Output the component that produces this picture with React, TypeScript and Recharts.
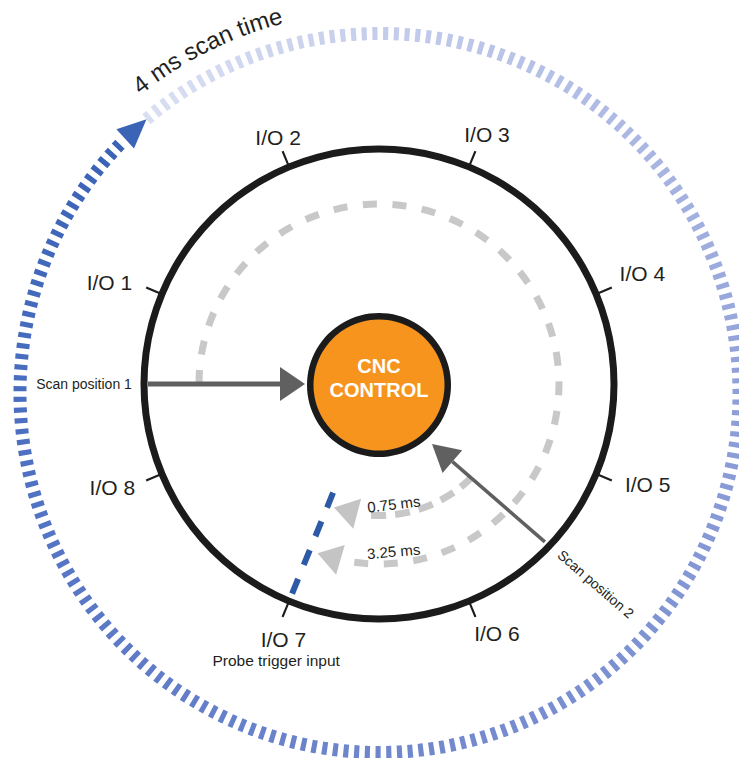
import React from "react";
import { Cell, Pie, PieChart, Scatter, ScatterChart, XAxis, YAxis } from "recharts";

const W = 739;
const H = 758;
// centre of the I/O ring in px; the overlay axes put it at (0,0) with y pointing up
const CX = 379;
const CY = 384;
const FONT = "'Liberation Sans', Arial, Helvetica, sans-serif";
const INK = "#231f20";

// ---------- values ----------
const ioNames = ["I/O 1", "I/O 2", "I/O 3", "I/O 4", "I/O 5", "I/O 6", "I/O 7", "I/O 8"];
const ioAngles = [157.5, 112.5, 67.5, 22.5, -22.5, -67.5, -112.5, -157.5];
const scanTimeMs = 4;
const probeAngle = -112.5; // I/O 7
const probeLabel = "Probe trigger input";
const delayLabels = ["3.25 ms", "0.75 ms"];
const delayMs = [3.25, 0.75];
const scanLabels = ["Scan position 1", "Scan position 2"];
const controlLines = ["CNC", "CONTROL"];

// ---------- layout ----------
const OUTER_C = { x: 0.5, y: -9 }; // scan-time ring is a touch lower than the I/O ring
const OUTER_R = 359.5;
const OUTER_TIP = 130.4;
const ioLabelPos = [
  [288, 159.4], [266, 112.3], [272, 66.6], [285.5, 22.7],
  [287, -20.6], [276, -64.7], [273, -110.5], [286, -158.8],
];
const delayRadius = [180, 131.5];
const delayTextPos = [[168, -85], [121, -83]];
const ringStops = ["#d9dff2", "#c2cbea", "#a9b6e1", "#8e9fd8", "#7d92d2", "#6f86cc", "#5e7ac7", "#4a6ec0", "#3a62b5"];

const deg = (rad: number) => (rad * 180) / Math.PI;
const rad = (d: number) => (d * Math.PI) / 180;
const polar = (angle: number, r: number, c = { x: 0, y: 0 }) => ({
  x: c.x + r * Math.cos(rad(angle)),
  y: c.y + r * Math.sin(rad(angle)),
});

// dash/gap cells for a Pie, values in degrees so they add up to the sweep
function dashes(sweep: number, dashDeg: number, count: number) {
  const gap = (sweep - dashDeg * count) / (count - 1);
  const out: { v: number; on: boolean; i: number }[] = [];
  for (let i = 0; i < count; i++) {
    out.push({ v: dashDeg, on: true, i });
    if (i < count - 1) out.push({ v: gap, on: false, i });
  }
  return out;
}

function hex(c: string) {
  return [1, 3, 5].map((k) => parseInt(c.slice(k, k + 2), 16));
}
function ringColor(t: number) {
  const s = t * (ringStops.length - 1);
  const k = Math.min(Math.floor(s), ringStops.length - 2);
  const f = s - k;
  const a = hex(ringStops[k]);
  const b = hex(ringStops[k + 1]);
  return `rgb(${a.map((v, j) => Math.round(v + (b[j] - v) * f)).join(",")})`;
}

function head(base: any, tip: any, half: number, fill: string) {
  const dx = tip.x - base.x;
  const dy = tip.y - base.y;
  const len = Math.hypot(dx, dy);
  return { x: tip.x, y: tip.y, ux: dx / len, uy: dy / len, len, half, fill };
}
function arrow(start: any, tip: any, len: number, half: number, fill: string) {
  const dx = tip.x - start.x;
  const dy = tip.y - start.y;
  const d = Math.hypot(dx, dy);
  const base = { x: tip.x - (dx / d) * len, y: tip.y - (dy / d) * len };
  return { line: [start, base], head: head(base, tip, half, fill) };
}

// ---------- tables for the library ----------
const OUTER_COUNT = 208;
const outerRing = dashes(354.2, 0.82, OUTER_COUNT).map((d) => ({
  ...d,
  color: ringColor(d.i / (OUTER_COUNT - 1)),
}));

const ioTicks = ioAngles.flatMap(() => [{ v: 0.5, on: true }, { v: 44.5, on: false }]);

const tipGap = 2.5;
const delayArcs = delayMs.map((ms, i) => {
  const r = delayRadius[i];
  const from = probeAngle + (ms / scanTimeMs) * 360;
  const tip = probeAngle + tipGap;
  const end = tip + deg((24 + 14) / r);
  const dashDeg = deg((i === 0 ? 14 : 15) / r);
  const count = Math.max(2, Math.round((from - end) / deg(30 / r)) + 1);
  return {
    r,
    from,
    end,
    cells: dashes(from - end, dashDeg, count),
    head: head(polar(tip + deg(24 / r), r), polar(tip, r), 15.5, "#c4c4c4"),
  };
});

const scan1 = arrow(polar(180, 231), polar(180, 74), 25, 17, "#606060");
const scan2 = arrow(polar(-43.6, 229), polar(-48.5, 80), 27, 15, "#606060");
const probeLine = [polar(probeAngle - 0.4, 118), polar(probeAngle, 233)];

const outerHead = head(
  polar(OUTER_TIP + deg(29 / OUTER_R), OUTER_R, OUTER_C),
  polar(OUTER_TIP, OUTER_R, OUTER_C),
  13,
  "#3b64b6"
);
const heads = [scan1.head, scan2.head, ...delayArcs.map((a) => a.head), outerHead];

const labels: any[] = [
  ...ioNames.map((t, i) => ({ ...polar(ioLabelPos[i][1], ioLabelPos[i][0]), text: t, size: 21 })),
  { ...polar(180, 295), text: scanLabels[0], size: 14 },
  { ...polar(-42.7, 295), text: scanLabels[1], size: 14, rotate: 41 },
  { ...polar(-110.4, 295), text: probeLabel, size: 15.5 },
  ...delayLabels.map((t, i) => ({
    ...polar(delayTextPos[i][1], delayTextPos[i][0]),
    text: t,
    size: 15,
    rotate: -(90 + delayTextPos[i][1]),
  })),
  { ...polar(90, 18), text: controlLines[0], size: 20, bold: true, fill: "#fff" },
  { ...polar(-90, 5.5), text: controlLines[1], size: 20, bold: true, fill: "#fff" },
  { ...OUTER_C, text: `${scanTimeMs} ms scan time`, size: 24, arc: 382, mid: 116.6 },
];

function Blank() {
  return <g />;
}

function HeadShape(props: any) {
  const { cx, cy, payload } = props;
  const { ux, uy, len, half, fill } = payload;
  const sx = ux;
  const sy = -uy;
  const bx = cx - sx * len;
  const by = cy - sy * len;
  const nx = -sy;
  const ny = sx;
  const pts = `${cx},${cy} ${bx + nx * half},${by + ny * half} ${bx - nx * half},${by - ny * half}`;
  return <polygon points={pts} fill={fill} />;
}

function LabelShape(props: any) {
  const { cx, cy, payload } = props;
  if (payload.arc) {
    const r = payload.arc;
    const a0 = rad(payload.mid + 35);
    const a1 = rad(payload.mid - 35);
    const d = `M ${cx + r * Math.cos(a0)} ${cy - r * Math.sin(a0)} A ${r} ${r} 0 0 1 ${cx + r * Math.cos(a1)} ${cy - r * Math.sin(a1)}`;
    return (
      <g>
        <defs>
          <path id="scan-time-arc" d={d} fill="none" />
        </defs>
        <text fontFamily={FONT} fontSize={payload.size} fill={INK} textAnchor="middle">
          <textPath href="#scan-time-arc" startOffset="50%">
            {payload.text}
          </textPath>
        </text>
      </g>
    );
  }
  return (
    <text
      x={cx}
      y={cy}
      textAnchor="middle"
      dominantBaseline="central"
      fontFamily={FONT}
      fontSize={payload.size}
      fontWeight={payload.bold ? 700 : 400}
      fill={payload.fill ?? INK}
      transform={payload.rotate ? `rotate(${payload.rotate} ${cx} ${cy})` : undefined}
    >
      {payload.text}
    </text>
  );
}

const layer: React.CSSProperties = { position: "absolute", left: 0, top: 0 };
const noMargin = { top: 0, right: 0, bottom: 0, left: 0 };

export default function App() {
  return (
    <div style={{ position: "absolute", left: 0, top: 0, width: W, height: H, background: "#fff", overflow: "hidden" }}>
      <div style={layer}>
        <PieChart width={W} height={H} margin={noMargin}>
          {/* 4 ms scan-time ring */}
          <Pie
            data={outerRing}
            dataKey="v"
            cx={CX + OUTER_C.x}
            cy={CY - OUTER_C.y}
            innerRadius={353}
            outerRadius={366}
            startAngle={OUTER_TIP}
            endAngle={OUTER_TIP - 354.2}
            stroke="none"
            isAnimationActive={false}
          >
            {outerRing.map((d, i) => (
              <Cell key={i} fill={d.on ? d.color : "transparent"} stroke="none" />
            ))}
          </Pie>
          {/* I/O ring */}
          <Pie
            data={[{ v: 1 }]}
            dataKey="v"
            cx={CX}
            cy={CY}
            innerRadius={231.5}
            outerRadius={238.5}
            startAngle={0}
            endAngle={360}
            fill="#1b1b1b"
            stroke="none"
            isAnimationActive={false}
          />
          <Pie
            data={ioTicks}
            dataKey="v"
            cx={CX}
            cy={CY}
            innerRadius={236}
            outerRadius={252}
            startAngle={ioAngles[0] + 0.25}
            endAngle={ioAngles[0] + 0.25 - 360}
            stroke="none"
            isAnimationActive={false}
          >
            {ioTicks.map((d, i) => (
              <Cell key={i} fill={d.on ? "#1b1b1b" : "transparent"} stroke="none" />
            ))}
          </Pie>
          {/* delay arcs from each scan position to the probe input */}
          {delayArcs.map((a, k) => (
            <Pie
              key={k}
              data={a.cells}
              dataKey="v"
              cx={CX}
              cy={CY}
              innerRadius={a.r - 3.5}
              outerRadius={a.r + 3.5}
              startAngle={a.from}
              endAngle={a.end}
              stroke="none"
              isAnimationActive={false}
            >
              {a.cells.map((d, i) => (
                <Cell key={i} fill={d.on ? "#c8c8c8" : "transparent"} stroke="none" />
              ))}
            </Pie>
          ))}
          {/* CNC control */}
          <Pie
            data={[{ v: 1 }]}
            dataKey="v"
            cx={CX}
            cy={CY + 1}
            innerRadius={0}
            outerRadius={66}
            fill="#f7941d"
            stroke="none"
            isAnimationActive={false}
          />
          <Pie
            data={[{ v: 1 }]}
            dataKey="v"
            cx={CX}
            cy={CY + 1}
            innerRadius={65.5}
            outerRadius={72}
            fill="#1b1b1b"
            stroke="none"
            isAnimationActive={false}
          />
        </PieChart>
      </div>
      <div style={layer}>
        <ScatterChart width={W} height={H} margin={noMargin}>
          <XAxis type="number" dataKey="x" domain={[-CX, W - CX]} hide allowDataOverflow />
          <YAxis type="number" dataKey="y" domain={[CY - H, CY]} hide allowDataOverflow />
          <Scatter
            data={scan1.line}
            fill="#606060"
            line={{ stroke: "#606060", strokeWidth: 5 }}
            shape={Blank}
            isAnimationActive={false}
          />
          <Scatter
            data={scan2.line}
            fill="#606060"
            line={{ stroke: "#606060", strokeWidth: 3.5 }}
            shape={Blank}
            isAnimationActive={false}
          />
          <Scatter
            data={probeLine}
            fill="#2d5aa7"
            line={{ stroke: "#2d5aa7", strokeWidth: 6, strokeDasharray: "16 15" }}
            shape={Blank}
            isAnimationActive={false}
          />
          <Scatter data={heads} shape={HeadShape} isAnimationActive={false} />
          <Scatter data={labels} shape={LabelShape} isAnimationActive={false} />
        </ScatterChart>
      </div>
    </div>
  );
}
